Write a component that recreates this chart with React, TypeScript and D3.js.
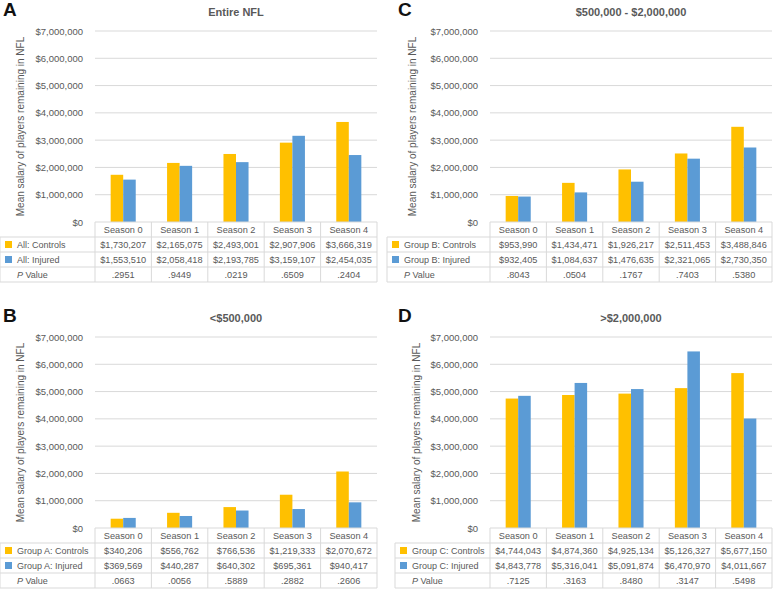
import * as d3 from "d3";

const seasons = ["Season 0", "Season 1", "Season 2", "Season 3", "Season 4"];
const yTicks = [0, 1000000, 2000000, 3000000, 4000000, 5000000, 6000000, 7000000];

const allControls = [1730207, 2165075, 2493001, 2907906, 3666319];
const allInjured = [1553510, 2058418, 2193785, 3159107, 2454035];
const allP = [".2951", ".9449", ".0219", ".6509", ".2404"];

const aControls = [340206, 556762, 766536, 1219333, 2070672];
const aInjured = [369569, 440287, 640302, 695361, 940417];
const aP = [".0663", ".0056", ".5889", ".2882", ".2606"];

const bControls = [953990, 1434471, 1926217, 2511453, 3488846];
const bInjured = [932405, 1084637, 1476635, 2321065, 2730350];
const bP = [".8043", ".0504", ".1767", ".7403", ".5380"];

const cControls = [4744043, 4874360, 4925134, 5126327, 5677150];
const cInjured = [4843778, 5316041, 5091874, 6470970, 4011667];
const cP = [".7125", ".3163", ".8480", ".3147", ".5498"];

const YELLOW = "#FFC000";
const BLUE = "#5B9BD5";
const TEXT = "#595959";
const GRID = "#D9D9D9";
const FONT = "'Liberation Sans', Arial, sans-serif";

const fmt = (v: number) => "$" + d3.format(",")(v);

type PanelProps = {
  ox: number;
  oy: number;
  letter: string;
  title: string;
  group: string;
  controls: number[];
  injured: number[];
  pvals: string[];
  legendLeft: number;
  ylabelX: number;
};

function Panel({ ox, oy, letter, title, group, controls, injured, pvals, legendLeft, ylabelX }: PanelProps) {
  const left = 95;
  const right = 377;
  const top = 31;
  const bottom = 222;
  const rowH = 15;
  const y = d3.scaleLinear().domain([0, 7000000]).range([bottom, top]);
  const x0 = d3.scaleBand<string>().domain(seasons).range([left, right]);
  const x1 = d3
    .scaleBand<string>()
    .domain(["c", "i"])
    .range([0, x0.bandwidth()])
    .paddingInner(0)
    .paddingOuter(1.25);

  const rows = [
    { label: `${group}: Controls`, color: YELLOW, vals: controls.map(fmt) },
    { label: `${group}: Injured`, color: BLUE, vals: injured.map(fmt) },
    { label: "P", color: null, vals: pvals },
  ];

  return (
    <g transform={`translate(${ox},${oy})`} fontFamily={FONT}>
      <text x={3} y={16} fontWeight="bold" fontSize={19} fill="#111">
        {letter}
      </text>
      <text x={(left + right) / 2} y={16} textAnchor="middle" fontWeight="bold" fontSize={11} fill={TEXT}>
        {title}
      </text>
      {yTicks.map((t) => (
        <g key={t}>
          {t > 0 && <line x1={left} x2={right} y1={y(t)} y2={y(t)} stroke={GRID} strokeWidth={1} />}
          <text x={83} y={y(t)} textAnchor="end" dominantBaseline="central" fontSize={9.5} fill={TEXT}>
            {fmt(t)}
          </text>
        </g>
      ))}
      <text
        transform={`translate(${ylabelX},${(top + bottom) / 2}) rotate(-90)`}
        textAnchor="middle"
        dominantBaseline="central"
        fontSize={10}
        fill={TEXT}
      >
        Mean salary of players remaining in NFL
      </text>
      {seasons.map((s, i) => (
        <g key={s}>
          <rect
            x={(x0(s) ?? 0) + (x1("c") ?? 0)}
            width={x1.bandwidth()}
            y={y(controls[i])}
            height={bottom - y(controls[i])}
            fill={YELLOW}
          />
          <rect
            x={(x0(s) ?? 0) + (x1("i") ?? 0)}
            width={x1.bandwidth()}
            y={y(injured[i])}
            height={bottom - y(injured[i])}
            fill={BLUE}
          />
        </g>
      ))}
      {/* data table */}
      <g stroke={GRID} strokeWidth={1} fill="none">
        <line x1={left} x2={right} y1={bottom} y2={bottom} />
        {[1, 2, 3, 4].map((r) => (
          <line key={r} x1={legendLeft} x2={right} y1={bottom + r * rowH} y2={bottom + r * rowH} />
        ))}
        <line x1={legendLeft} x2={legendLeft} y1={bottom + rowH} y2={bottom + 4 * rowH} />
        {seasons.map((s) => (
          <line key={s} x1={x0(s)} x2={x0(s)} y1={bottom} y2={bottom + 4 * rowH} />
        ))}
        <line x1={right} x2={right} y1={bottom} y2={bottom + 4 * rowH} />
      </g>
      {seasons.map((s) => (
        <text
          key={s}
          x={(x0(s) ?? 0) + x0.bandwidth() / 2}
          y={bottom + rowH / 2}
          textAnchor="middle"
          dominantBaseline="central"
          fontSize={9.2}
          fill={TEXT}
        >
          {s}
        </text>
      ))}
      {rows.map((row, r) => {
        const cy = bottom + (r + 1.5) * rowH;
        return (
          <g key={r}>
            {row.color && <rect x={legendLeft + 5} y={cy - 3.5} width={7} height={7} fill={row.color} />}
            <text x={legendLeft + 17} y={cy} dominantBaseline="central" fontSize={9} fill={TEXT}>
              {row.color ? (
                row.label
              ) : (
                <>
                  <tspan fontStyle="italic">P</tspan> Value
                </>
              )}
            </text>
            {row.vals.map((v, i) => (
              <text
                key={i}
                x={(x0(seasons[i]) ?? 0) + x0.bandwidth() / 2}
                y={cy}
                textAnchor="middle"
                dominantBaseline="central"
                fontSize={9.2}
                fill={TEXT}
              >
                {v}
              </text>
            ))}
          </g>
        );
      })}
    </g>
  );
}

export default function App() {
  return (
    <svg
      width={774}
      height={589}
      style={{ position: "absolute", left: 0, top: 0, background: "#fff" }}
    >
      <Panel ox={0} oy={0} letter="A" title="Entire NFL" group="All" controls={allControls} injured={allInjured} pvals={allP} legendLeft={0} ylabelX={20} />
      <Panel ox={0} oy={306} letter="B" title="<$500,000" group="Group A" controls={aControls} injured={aInjured} pvals={aP} legendLeft={0} ylabelX={20} />
      <Panel ox={395} oy={0} letter="C" title="$500,000 - $2,000,000" group="Group B" controls={bControls} injured={bInjured} pvals={bP} legendLeft={-8} ylabelX={17} />
      <Panel ox={395} oy={306} letter="D" title=">$2,000,000" group="Group C" controls={cControls} injured={cInjured} pvals={cP} legendLeft={0} ylabelX={21} />
    </svg>
  );
}
